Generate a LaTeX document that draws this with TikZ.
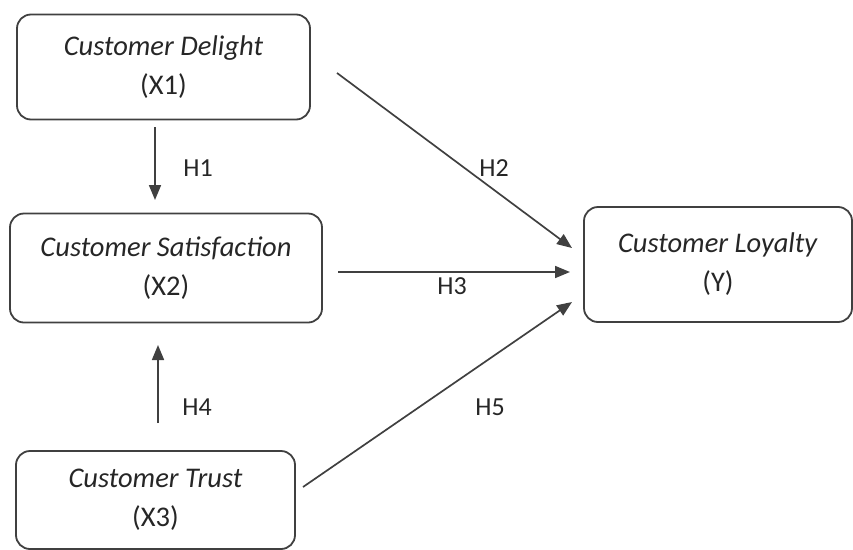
\documentclass[tikz,border=0pt]{standalone}
\usepackage{fontspec}
\setmainfont{Carlito}
\usetikzlibrary{arrows.meta}
\begin{document}
\begin{tikzpicture}[x=1pt,y=-1pt,
  box/.style={draw=black!75,line width=1.8pt,rounded corners=14pt,align=center,font=\fontsize{28.5}{39}\selectfont,text=black!85},
  arr/.style={draw=black!75,line width=1.7pt,-{Triangle[length=15pt,width=12pt]}},
  lab/.style={font=\fontsize{26}{30}\selectfont,text=black!85}]
\useasboundingbox (0,0) rectangle (853,549);
\node[box,minimum width=293pt,minimum height=105pt] (x1) at (163.5,67) {\textit{Customer Delight}\\(X1)};
\node[box,minimum width=312pt,minimum height=109pt] (x2) at (166,268) {\textit{Customer Satisfaction}\\(X2)};
\node[box,minimum width=279pt,minimum height=98pt] (x3) at (155.5,500) {\textit{Customer Trust}\\(X3)};
\node[box,minimum width=268pt,minimum height=115pt] (y) at (718,264.5) {\textit{Customer Loyalty}\\(Y)};
\coordinate (h1s) at (155,127); \coordinate (h1e) at (155,200);
\coordinate (h2s) at (337,73); \coordinate (h2e) at (572,248);
\coordinate (h3s) at (338,272); \coordinate (h3e) at (570,272);
\coordinate (h4s) at (158,423); \coordinate (h4e) at (158,345);
\coordinate (h5s) at (303,487); \coordinate (h5e) at (572,302);
\draw[arr] (h1s) -- (h1e);
\draw[arr] (h2s) -- (h2e);
\draw[arr] (h3s) -- (h3e);
\draw[arr] (h4s) -- (h4e);
\draw[arr] (h5s) -- (h5e);
\node[lab] (l1) at (198,168) {H1};
\node[lab] (l2) at (494,168) {H2};
\node[lab] (l3) at (452,286) {H3};
\node[lab] (l4) at (197,407) {H4};
\node[lab] (l5) at (490,407) {H5};
\end{tikzpicture}
\end{document}
